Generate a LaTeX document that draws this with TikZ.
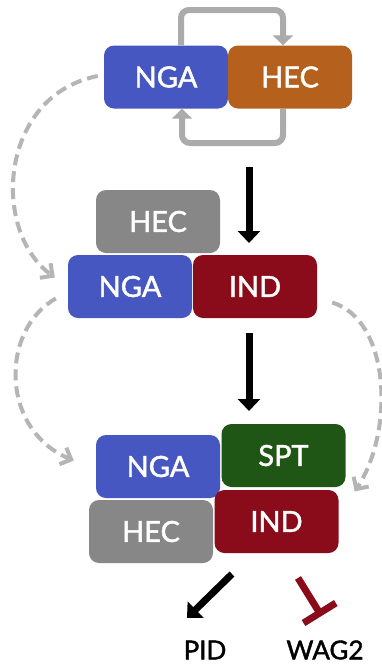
\documentclass[tikz,border=0pt]{standalone}
\usepackage{fontspec}
\setmainfont{Lato}
\newfontfamily\heavylato[FakeBold=1.6]{Lato}
\usetikzlibrary{arrows.meta,positioning,calc}
\definecolor{ngablue}{HTML}{4757C2}
\definecolor{hecorange}{HTML}{B5601C}
\definecolor{hecgray}{HTML}{878787}
\definecolor{indred}{HTML}{8A0B1A}
\definecolor{sptgreen}{HTML}{1F5515}
\definecolor{loopgray}{HTML}{ABABAB}
\definecolor{dashgray}{HTML}{B5B5B5}
\tikzset{
  prot/.style={rounded corners=10pt,minimum width=124pt,minimum height=63pt,
    text=white,font=\heavylato\fontsize{29}{31}\selectfont,inner sep=0pt},
  loop/.style={loopgray,line width=6pt,rounded corners=8pt,
    -{Triangle[length=10pt,width=20pt]}},
  flow/.style={black,line width=7pt,-{Triangle[length=12pt,width=22pt]}},
  hop/.style={dashgray,line width=4pt,dash pattern=on 11pt off 6pt,
    -{Straight Barb[length=9pt,width=18pt,line width=4pt]}},
  gene/.style={font=\heavylato\fontsize{26}{28}\selectfont}
}
\begin{document}
\begin{tikzpicture}[x=1pt,y=-1pt,line cap=butt]
\useasboundingbox[fill=white] (0,0) rectangle (382,665);
% top complex
\node[prot,fill=ngablue] (nga1) at (166,77) {NGA};
\node[prot,fill=hecorange] (hec1) at (290,77) {HEC};
% middle complex
\node[prot,fill=hecgray] (hec2) at (158,221.5) {HEC};
\node[prot,fill=ngablue] (nga2) at (130,286.5) {NGA};
\node[prot,fill=indred] (ind2) at (255,286.5) {IND};
% bottom complex
\node[prot,fill=ngablue] (nga3) at (158,466.5) {NGA};
\node[prot,fill=sptgreen] (spt3) at (283.5,455.5) {SPT};
\node[prot,fill=hecgray] (hec3) at (151,531.5) {HEC};
\node[prot,fill=indred] (ind3) at (276.5,521.5) {IND};
% targets
\node[gene] (pid) at (205,650) {PID};
\node[gene] (wag) at (325,650) {WAG2};
% loop between NGA and HEC
\draw[loop] (nga1.north -| 181,0) |- (283,10) -- (hec1.north -| 283,0);
\draw[loop] (hec1.south -| 283,0) |- (182,143) -- (nga1.south -| 182,0);
% main steps
\coordinate (s1) at (249,167);
\coordinate (e1) at (249,243);
\coordinate (s2) at (249,333);
\coordinate (e2) at (249,411);
\draw[flow] (s1) -- (e1);
\draw[flow] (s2) -- (e2);
% dashed hops
\draw[hop] (nga1.west) ++(-6,-1) .. controls (0,95) and (-10,230) .. ($(nga2.west)+(-13,-9)$);
\draw[hop] (nga2.west) ++(-12,12) .. controls (0,330) and (0,430) .. ($(nga3.west)+(-22,-6)$);
\draw[hop] (ind2.east) ++(15,16) .. controls (390,320) and (395,430) .. ($(spt3.east)+(9,36)$);
% outputs
\coordinate (p1) at (232,574);
\coordinate (p2) at (187,618);
\coordinate (w1) at (298,578);
\coordinate (w2) at (321.5,616);
\draw[flow] (p1) -- (p2);
\draw[indred,line width=7pt,-{Bar[width=38pt,line width=7pt]}] (w1) -- (w2);
\end{tikzpicture}
\end{document}
